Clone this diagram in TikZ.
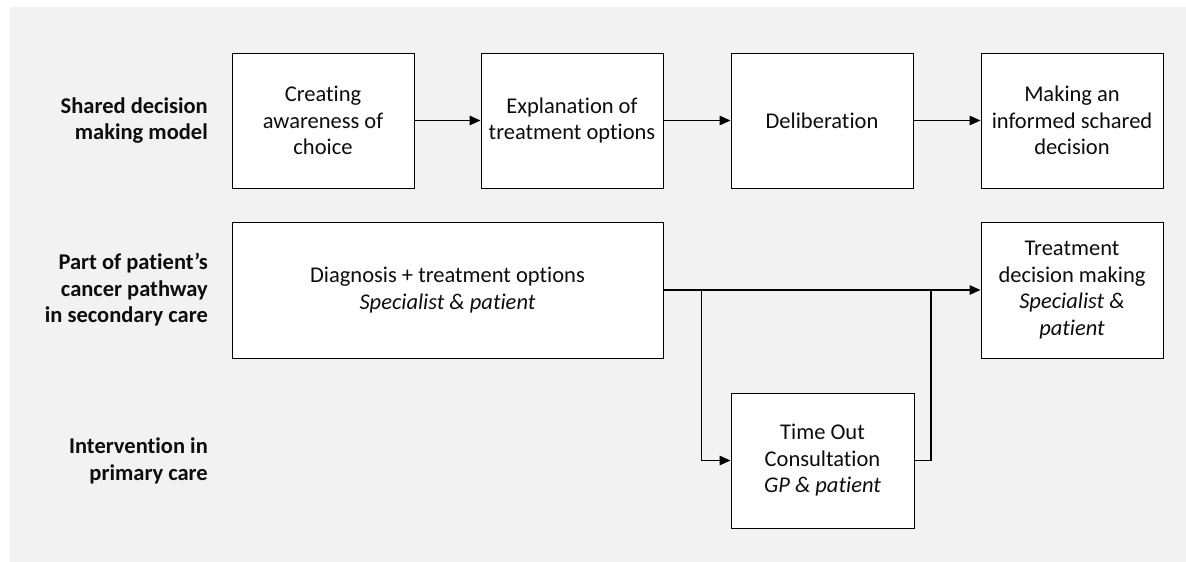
\documentclass[tikz,border=0pt]{standalone}
\usepackage{fontspec}
\setmainfont{Carlito}[Ligatures=NoCommon]
\usetikzlibrary{arrows.meta}
\definecolor{bggray}{HTML}{F2F2F2}
\definecolor{txt}{HTML}{0D0D0D}
\tikzset{
  stepbox/.style={draw=black, line width=1pt, fill=white, minimum width=182pt, minimum height=135pt, align=center, text=txt, inner sep=2pt, font=\fontsize{22.5}{26.5}\selectfont},
  rowlabel/.style={anchor=east, align=right, text=txt, inner sep=0pt, font=\fontsize{22.5}{26.5}\selectfont\bfseries},
  conn/.style={line width=1.4pt, draw=black},
  arr/.style={conn, -{Triangle[length=11pt,width=9.5pt]}}
}
\begin{document}
\begin{tikzpicture}[x=1pt,y=-1pt]
\useasboundingbox (0,0) rectangle (1186,562);
\fill[bggray] (10,7) rectangle (1186,562);
% row labels
\node[rowlabel] (l1) at (208,120.5) {Shared decision\\making model};
\node[rowlabel] (l2) at (208,290) {Part of patient’s\\cancer pathway\\in secondary care};
\node[rowlabel] (l3) at (208,461) {Intervention in\\primary care};
% top row
\node[stepbox] (b1) at (323,120.5) {Creating\\awareness of\\choice};
\node[stepbox] (b2) at (572,120.5) {Explanation of\\treatment options};
\node[stepbox] (b3) at (822,120.5) {Deliberation};
\node[stepbox] (b4) at (1072,120.5) {Making an\\informed schared\\decision};
% second row
\node[stepbox, minimum width=431pt, minimum height=136pt] (diag) at (447.5,290) {Diagnosis + treatment options\\\textit{Specialist \& patient}};
\node[stepbox, minimum height=136pt] (treat) at (1072,290) {Treatment\\decision making\\\textit{Specialist \&}\\\textit{patient}};
% third row
\node[stepbox, minimum width=183pt] (tout) at (822.5,460.5) {Time Out\\Consultation\\\textit{GP \& patient}};
% connectors
\draw[arr] (b1) -- (b2);
\draw[arr] (b2) -- (b3);
\draw[arr] (b3) -- (b4);
\draw[arr] (diag) -- (treat);
\coordinate (split) at (701.5,290);
\coordinate (join) at (931,290);
\draw[arr] (split) |- (tout.west);
\draw[conn] (tout.east) -| (join);
\end{tikzpicture}
\end{document}
